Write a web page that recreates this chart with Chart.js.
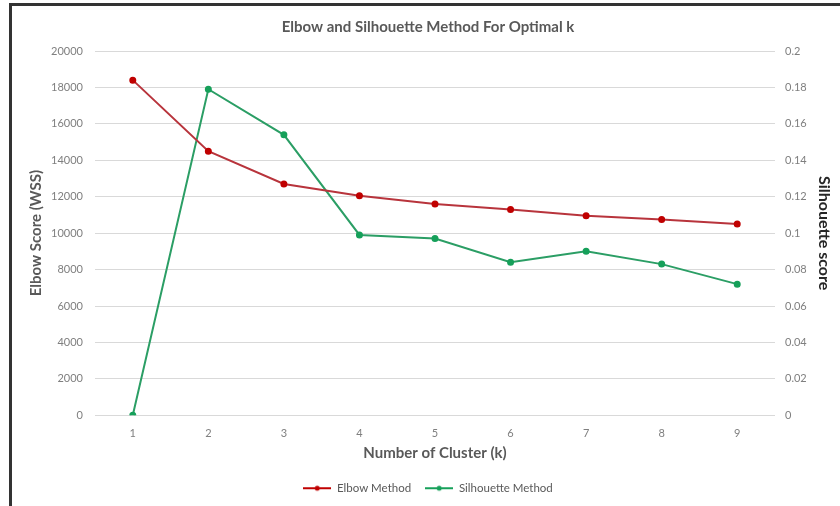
<!DOCTYPE html>
<html>
<head>
<meta charset="utf-8">
<script src="https://cdn.jsdelivr.net/npm/chart.js@4.4.1/dist/chart.umd.min.js"></script>
<style>
  html, body { margin: 0; padding: 0; background: #fff; }
  #wrap { position: relative; width: 840px; height: 506px; }
  #frame {
    position: absolute; left: 9px; top: 3px; right: 0; bottom: 0;
    border-top: 3px solid #333; border-left: 3px solid #333;
    pointer-events: none;
  }
</style>
</head>
<body>
<div id="wrap">
  <canvas id="chart" width="840" height="506"></canvas>
  <div id="frame"></div>
</div>
<script>
// cluster counts on the x axis
const clusters = ['1', '2', '3', '4', '5', '6', '7', '8', '9'];

// elbow score (WSS), left axis
const elbowWSS = [18400, 14500, 12700, 12050, 11600, 11300, 10950, 10750, 10500];

// silhouette score, right axis
const silhouette = [0, 0.179, 0.154, 0.099, 0.097, 0.084, 0.090, 0.083, 0.072];

const RED = '#c00000';
const RED_LINE = '#b8343c';
const GREEN = '#16a05a';
const GREEN_LINE = '#2b9e65';
const FONT = 'Lato, "Open Sans", sans-serif';

// legend marker: short line with a dot in the middle
function lineMarker(color) {
  const c = document.createElement('canvas');
  c.width = 28; c.height = 10;
  const g = c.getContext('2d');
  g.strokeStyle = color; g.lineWidth = 2;
  g.beginPath(); g.moveTo(0, 5); g.lineTo(28, 5); g.stroke();
  g.fillStyle = color;
  g.beginPath(); g.arc(14, 5, 2.5, 0, Math.PI * 2); g.fill();
  return c;
}

const ctx = document.getElementById('chart').getContext('2d');

new Chart(ctx, {
  type: 'line',
  data: {
    labels: clusters,
    datasets: [
      {
        label: 'Elbow Method',
        data: elbowWSS,
        yAxisID: 'y',
        borderColor: RED_LINE,
        backgroundColor: RED,
        pointBackgroundColor: RED,
        pointBorderColor: RED,
        borderWidth: 2,
        pointRadius: 2.5,
        tension: 0
      },
      {
        label: 'Silhouette Method',
        data: silhouette,
        yAxisID: 'y1',
        borderColor: GREEN_LINE,
        backgroundColor: GREEN,
        pointBackgroundColor: GREEN,
        pointBorderColor: GREEN,
        borderWidth: 2,
        pointRadius: 2.5,
        tension: 0
      }
    ]
  },
  options: {
    responsive: false,
    animation: false,
    layout: { padding: { left: 22, right: 6, top: 0, bottom: 2 } },
    plugins: {
      title: {
        display: true,
        text: 'Elbow and Silhouette Method For Optimal k',
        color: '#595959',
        font: { family: FONT, size: 15, weight: 'bold' },
        padding: { top: 18, bottom: 15 }
      },
      legend: {
        position: 'bottom',
        labels: {
          color: '#595959',
          font: { family: FONT, size: 11.5 },
          usePointStyle: true,
          pointStyleWidth: 28,
          boxWidth: 28,
          boxHeight: 10,
          padding: 14,
          generateLabels: (chart) => chart.data.datasets.map((ds, i) => ({
            text: ds.label,
            fontColor: '#595959',
            pointStyle: lineMarker(ds.backgroundColor),
            strokeStyle: ds.backgroundColor,
            fillStyle: ds.backgroundColor,
            lineWidth: 0,
            datasetIndex: i
          }))
        }
      },
      tooltip: { enabled: false }
    },
    scales: {
      x: {
        offset: true,
        grid: { display: false },
        border: { display: false },
        ticks: { color: '#7f7f7f', font: { family: FONT, size: 11 }, padding: 4 },
        title: {
          display: true,
          text: 'Number of Cluster (k)',
          color: '#595959',
          font: { family: FONT, size: 15, weight: 'bold' },
          padding: { top: 0, bottom: 6 }
        }
      },
      y: {
        position: 'left',
        min: 0,
        max: 20000,
        ticks: { stepSize: 2000, color: '#7f7f7f', font: { family: FONT, size: 11 }, padding: 12,
          callback: (v) => String(v) },
        grid: { color: '#d9d9d9', drawTicks: false },
        border: { display: false },
        title: {
          display: true,
          text: 'Elbow Score (WSS)',
          color: '#595959',
          font: { family: FONT, size: 15, weight: 'bold' },
          padding: { top: 5, bottom: 0 }
        },
        afterFit: (scale) => { scale.width = 73; }
      },
      y1: {
        position: 'right',
        min: 0,
        max: 0.2,
        ticks: { stepSize: 0.02, color: '#7f7f7f', font: { family: FONT, size: 11 }, padding: 10,
          callback: (v) => Number(v.toFixed(2)).toString() },
        grid: { display: false, drawTicks: false },
        border: { display: false },
        title: {
          display: true,
          text: 'Silhouette score',
          color: '#262626',
          font: { family: FONT, size: 16, weight: 'bold' },
          padding: { top: 0, bottom: 0 }
        },
        afterFit: (scale) => { scale.width = 59; }
      }
    }
  }
});
</script>
</body>
</html>
